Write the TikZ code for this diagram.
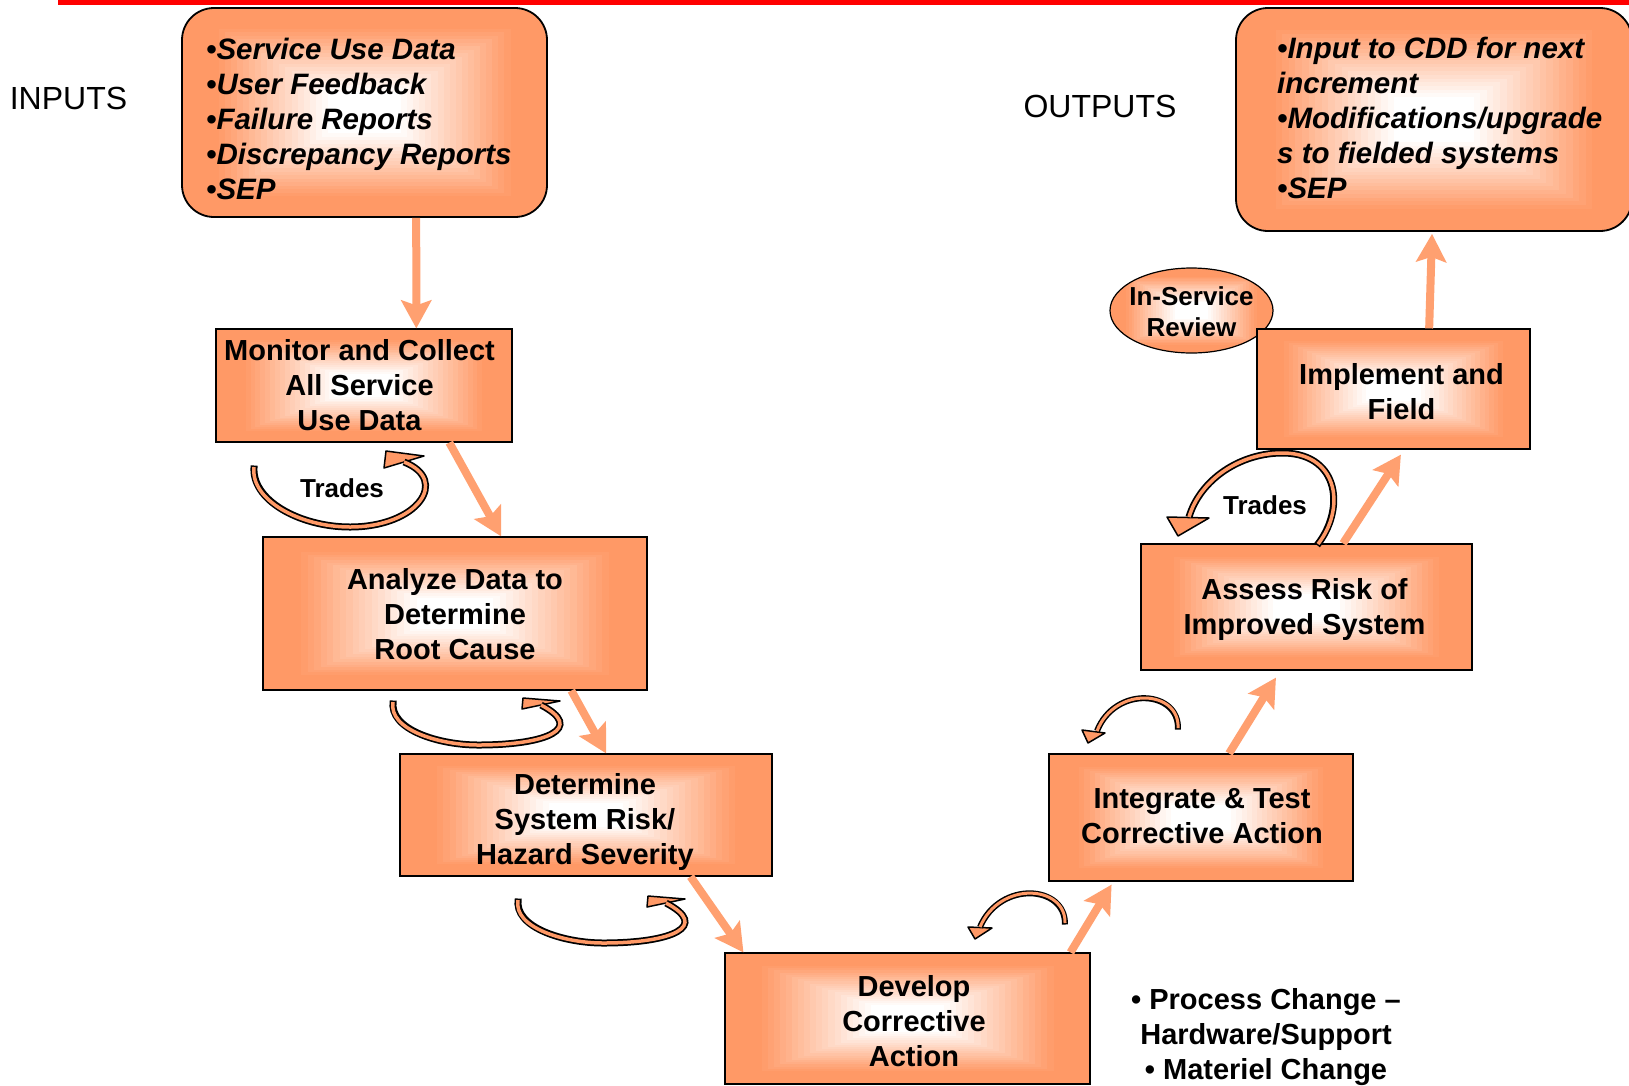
\documentclass[tikz,border=0pt]{standalone}
\usepackage{fontspec}
\setmainfont{Liberation Sans}
\usetikzlibrary{arrows.meta,calc,shapes.geometric}

\definecolor{boxorange}{RGB}{255,153,102}
\definecolor{flowcolor}{RGB}{255,160,112}
\definecolor{loopfill}{RGB}{255,153,102}

\tikzset{
  % rectangular "from the centre" gradient: white core fading to orange edges
  glow/.style={path picture={
      \foreach \k in {0,...,29}{
        \pgfmathsetmacro\glowscale{1-\k/30}
        \pgfmathtruncatemacro\glowpct{min(100,max(0,(\glowscale-0.2)/0.62*100))}
        \fill[sharp corners, boxorange!\glowpct!white]
          ($(path picture bounding box.center)!\glowscale!(path picture bounding box.north west)$)
          rectangle
          ($(path picture bounding box.center)!\glowscale!(path picture bounding box.south east)$);
      }}},
  stepbox/.style={draw=black, line width=1.2pt, glow, inner sep=0pt},
  steptext/.style={inner sep=0pt, align=center, font=\fontsize{29}{35}\selectfont\bfseries},
  listbox/.style={draw=black, line width=1.8pt, rounded corners=32pt, glow, inner sep=0pt},
  listtext/.style={inner sep=0pt, align=left, anchor=west,
    font=\fontsize{29.5}{35}\selectfont\bfseries\itshape},
  sidelabel/.style={inner sep=0pt, font=\fontsize{32}{38}\selectfont},
  tradelabel/.style={inner sep=0pt, font=\fontsize{26}{31}\selectfont\bfseries},
  reviewshape/.style={ellipse, draw=black, line width=1.2pt, glow, inner sep=0pt},
  reviewtext/.style={inner sep=0pt, align=center, font=\fontsize{26}{31}\selectfont\bfseries},
  flow/.style={line width=8pt, draw=flowcolor,
    -{Stealth[length=28pt,width=30pt,inset=5pt,fill=flowcolor]}},
  loopshaft/.style={line width=3.5pt, draw=loopfill,
    preaction={draw=black, line width=7pt, shorten <=-1.5pt}},
  thinshaft/.style={line width=3pt, draw=loopfill,
    preaction={draw=black, line width=6pt, shorten <=-1.5pt}},
  loophead/.style={fill=loopfill, draw=black, line width=1.5pt, line join=round},
}

\begin{document}
\begin{tikzpicture}[x=1pt,y=-1pt]
\useasboundingbox (0,0) rectangle (1629,1085);
\fill[white] (0,0) rectangle (1629,1085);
\clip (0,0) rectangle (1629,1085);

% title rule
\fill[red] (58,0) rectangle (1629,5);

% side labels
\node[sidelabel] (inputs label) at (68.5,98) {INPUTS};
\node[sidelabel] (outputs label) at (1100,106) {OUTPUTS};

% input and output lists
\node[listbox, minimum width=365pt, minimum height=209pt] (inputs) at (364.5,112.5) {};
\node[listtext] (inputs text) at (206,119)
  {•Service Use Data\\•User Feedback\\•Failure Reports\\•Discrepancy Reports\\•SEP};
\node[listbox, minimum width=396pt, minimum height=223pt] (outputs) at (1434,119.5) {};
\node[listtext] (outputs text) at (1277,118)
  {•Input to CDD for next\\increment\\•Modifications/upgrade\\s to fielded systems\\•SEP};

% review bubble sits behind the last step
\node[reviewshape, minimum width=163pt, minimum height=85pt] (review) at (1191.5,310.5) {};
\node[reviewtext] (review text) at (1191.5,311.5) {In-Service\\Review};

% process steps
\node[stepbox, minimum width=296pt, minimum height=113pt] (monitor) at (364,385.5) {};
\node[steptext] (monitor text) at ($(monitor.center)+(-4.5,0)$)
  {Monitor and Collect\\All Service\\Use Data};
\node[stepbox, minimum width=384pt, minimum height=153pt] (analyze) at (455,613.5) {};
\node[steptext] (analyze text) at ($(analyze.center)+(0,1)$)
  {Analyze Data to\\Determine\\Root Cause};
\node[stepbox, minimum width=372pt, minimum height=122pt] (determine) at (586,815) {};
\node[steptext] (determine text) at ($(determine.center)+(-1,6.5)$)
  {Determine\\System Risk/\\Hazard Severity};
\node[stepbox, minimum width=365pt, minimum height=131pt] (develop) at (907.5,1018.5) {};
\node[steptext] (develop text) at ($(develop.center)+(6.5,2.5)$)
  {Develop\\Corrective\\Action};
\node[stepbox, minimum width=304pt, minimum height=127pt] (integrate) at (1201,817.5) {};
\node[steptext] (integrate text) at ($(integrate.center)+(1,-1.5)$)
  {Integrate \& Test\\Corrective Action};
\node[stepbox, minimum width=331pt, minimum height=126pt] (assess) at (1306.5,607) {};
\node[steptext] (assess text) at ($(assess.center)+(-2,2.5)$)
  {Assess Risk of\\Improved System};
\node[stepbox, minimum width=273pt, minimum height=120pt] (implement) at (1393.5,389) {};
\node[steptext] (implement text) at ($(implement.center)+(8,3)$)
  {Implement and\\Field};

% change types
\node[steptext] (changes) at (1266,1037)
  {• Process Change –\\Hardware/Support\\• Materiel Change};

% flow between steps
\draw[flow] ($(inputs.south west)!0.641!(inputs.south east)$)
  -- ($(monitor.north west)!0.676!(monitor.north east)$);
\draw[flow] ($(monitor.south west)!0.787!(monitor.south east)$)
  -- ($(analyze.north west)!0.620!(analyze.north east)$);
\draw[flow] ($(analyze.south west)!0.802!(analyze.south east)$)
  -- ($(determine.north west)!0.554!(determine.north east)$);
\draw[flow] ($(determine.south west)!0.780!(determine.south east)$)
  -- ($(develop.north west)!0.052!(develop.north east)$);
\draw[flow] ($(develop.north west)!0.945!(develop.north east)$)
  -- ($(integrate.south west)!0.207!(integrate.south east) + (0,3)$);
\draw[flow] ($(integrate.north west)!0.592!(integrate.north east)$)
  -- ($(assess.south west)!0.408!(assess.south east) + (0,7)$);
\draw[flow] ($(assess.north west)!0.610!(assess.north east)$)
  -- ($(implement.south west)!0.527!(implement.south east) + (0,5)$);
\draw[flow] ($(implement.north west)!0.630!(implement.north east)$)
  -- ($(outputs.south west)!0.495!(outputs.south east) + (0,2)$);

% trade-off loops
\filldraw[loophead] (386,451) -- (424,456) -- (384,468) -- cycle;
\draw[loopshaft] (254,467) .. controls (250,500) and (300,527) .. (350,527)
  .. controls (418,527) and (450,480) .. (404,462);
\node[tradelabel] (trades left) at (342,488) {Trades};

\filldraw[loophead] (523,698) -- (560,701) -- (522,709) -- cycle;
\draw[loopshaft] (393,702) .. controls (388,730) and (440,745) .. (478,745)
  .. controls (548,745) and (585,728) .. (541,705);

\filldraw[loophead] (648,896) -- (685,899) -- (647,907) -- cycle;
\draw[loopshaft] (518,900) .. controls (513,928) and (565,943) .. (603,943)
  .. controls (673,943) and (710,926) .. (666,903);

\filldraw[loophead] (968,927) -- (992,928) -- (975,939) -- cycle;
\draw[thinshaft] (1065,923) .. controls (1066,885) and (1000,880) .. (980,927);

\filldraw[loophead] (1082,730) -- (1105,733) -- (1088,743) -- cycle;
\draw[thinshaft] (1178,728) .. controls (1180,690) and (1115,685) .. (1097,731);

\filldraw[loophead] (1167,517) -- (1209,518) -- (1178,536) -- cycle;
\draw[loopshaft] (1318,544) .. controls (1345,510) and (1340,455) .. (1285,453)
  .. controls (1240,452) and (1200,480) .. (1189,517);
\node[tradelabel] (trades right) at (1265,505) {Trades};

\end{tikzpicture}
\end{document}
